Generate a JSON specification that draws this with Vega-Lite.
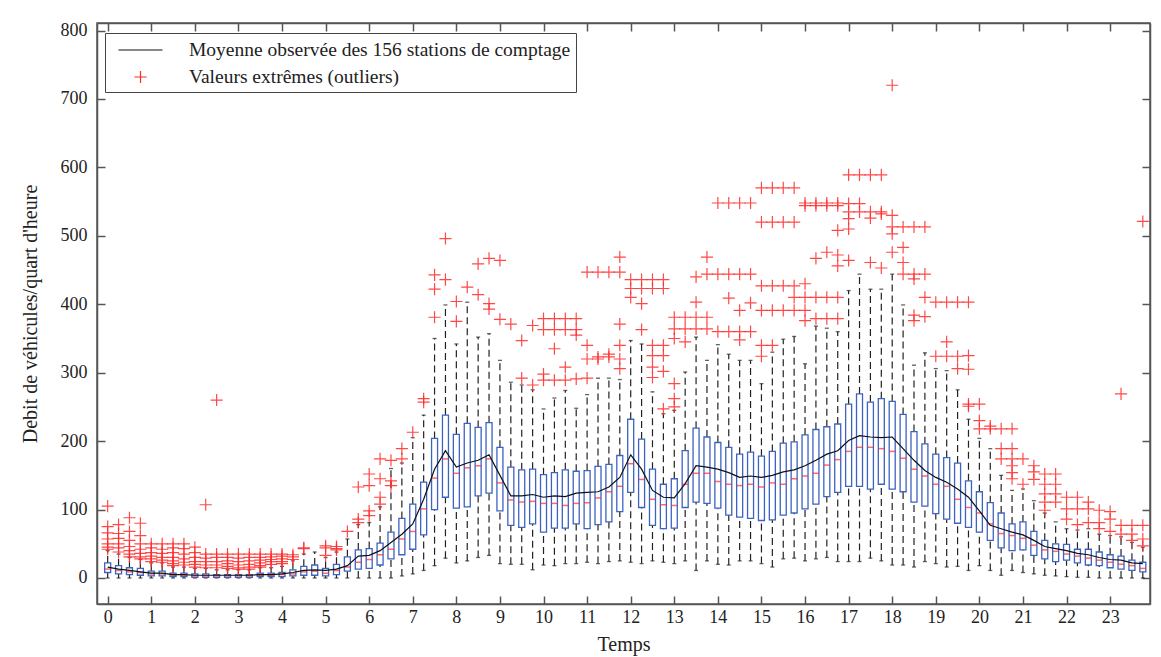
{
"$schema": "https://vega.github.io/schema/vega-lite/v6.json",
"width": 1053, "height": 581,
"padding": {"left": 20, "top": 21, "right": 8, "bottom": 4},
"autosize": {"type": "pad"},
"background": "white",
"config": {
  "font": "Liberation Serif",
  "view": {"stroke": "#555", "strokeWidth": 1.5},
  "axis": {"labelFont": "Liberation Serif", "titleFont": "Liberation Serif", "labelFontSize": 18, "titleFontSize": 20, "titleFontWeight": "normal", "labelColor": "#222", "titleColor": "#222", "domainColor": "#555", "domainWidth": 1.5, "tickColor": "#555", "tickWidth": 1.5, "tickSize": -8, "grid": false}
},
"resolve": {"axis": {"x": "independent", "y": "independent"}},
"datasets": {
"boxes": [
{"t":0,"lo":0,"q1":8,"med":13,"q3":22,"hi":40,"mean":16},
{"t":0.25,"lo":0,"q1":6,"med":11,"q3":18,"hi":35,"mean":13},
{"t":0.5,"lo":0,"q1":5,"med":9,"q3":15,"hi":30,"mean":11},
{"t":0.75,"lo":0,"q1":4,"med":8,"q3":14,"hi":27,"mean":9},
{"t":1,"lo":0,"q1":3,"med":6,"q3":10,"hi":22,"mean":7},
{"t":1.25,"lo":0,"q1":3,"med":6,"q3":10,"hi":22,"mean":7},
{"t":1.5,"lo":0,"q1":2,"med":4,"q3":7,"hi":16,"mean":5},
{"t":1.75,"lo":0,"q1":2,"med":4,"q3":7,"hi":16,"mean":5},
{"t":2,"lo":0,"q1":1,"med":3,"q3":6,"hi":14,"mean":4},
{"t":2.25,"lo":0,"q1":1,"med":3,"q3":6,"hi":14,"mean":4},
{"t":2.5,"lo":0,"q1":1,"med":3,"q3":5,"hi":12,"mean":4},
{"t":2.75,"lo":0,"q1":1,"med":3,"q3":5,"hi":12,"mean":4},
{"t":3,"lo":0,"q1":1,"med":3,"q3":5,"hi":12,"mean":4},
{"t":3.25,"lo":0,"q1":1,"med":3,"q3":5,"hi":12,"mean":4},
{"t":3.5,"lo":0,"q1":2,"med":4,"q3":7,"hi":15,"mean":5},
{"t":3.75,"lo":0,"q1":2,"med":4,"q3":7,"hi":15,"mean":5},
{"t":4,"lo":0,"q1":2,"med":5,"q3":8,"hi":17,"mean":6},
{"t":4.25,"lo":0,"q1":3,"med":6,"q3":12,"hi":25,"mean":8},
{"t":4.5,"lo":0,"q1":4,"med":9,"q3":17,"hi":35,"mean":11},
{"t":4.75,"lo":0,"q1":4,"med":10,"q3":19,"hi":38,"mean":12},
{"t":5,"lo":0,"q1":3,"med":7,"q3":14,"hi":30,"mean":11},
{"t":5.25,"lo":0,"q1":5,"med":11,"q3":20,"hi":38,"mean":13},
{"t":5.5,"lo":0,"q1":10,"med":16,"q3":31,"hi":57,"mean":18},
{"t":5.75,"lo":0,"q1":13,"med":23,"q3":41,"hi":78,"mean":32},
{"t":6,"lo":0,"q1":14,"med":27,"q3":43,"hi":81,"mean":33},
{"t":6.25,"lo":0,"q1":19,"med":34,"q3":51,"hi":104,"mean":40},
{"t":6.5,"lo":0,"q1":28,"med":42,"q3":67,"hi":160,"mean":52},
{"t":6.75,"lo":3,"q1":34,"med":57,"q3":87,"hi":168,"mean":64},
{"t":7,"lo":6,"q1":42,"med":68,"q3":108,"hi":205,"mean":79},
{"t":7.25,"lo":11,"q1":63,"med":101,"q3":140,"hi":238,"mean":115},
{"t":7.5,"lo":18,"q1":100,"med":146,"q3":204,"hi":350,"mean":159},
{"t":7.75,"lo":29,"q1":118,"med":174,"q3":238,"hi":399,"mean":186},
{"t":8,"lo":22,"q1":102,"med":153,"q3":210,"hi":342,"mean":162},
{"t":8.25,"lo":25,"q1":104,"med":161,"q3":226,"hi":403,"mean":168},
{"t":8.5,"lo":30,"q1":120,"med":164,"q3":220,"hi":352,"mean":172},
{"t":8.75,"lo":33,"q1":124,"med":174,"q3":227,"hi":357,"mean":180},
{"t":9,"lo":21,"q1":98,"med":139,"q3":191,"hi":318,"mean":150},
{"t":9.25,"lo":20,"q1":77,"med":114,"q3":162,"hi":286,"mean":120},
{"t":9.5,"lo":20,"q1":74,"med":111,"q3":158,"hi":282,"mean":120},
{"t":9.75,"lo":12,"q1":79,"med":112,"q3":159,"hi":275,"mean":122},
{"t":10,"lo":19,"q1":67,"med":109,"q3":151,"hi":247,"mean":118},
{"t":10.25,"lo":18,"q1":73,"med":109,"q3":154,"hi":263,"mean":120},
{"t":10.5,"lo":21,"q1":73,"med":106,"q3":158,"hi":274,"mean":119},
{"t":10.75,"lo":21,"q1":79,"med":109,"q3":156,"hi":248,"mean":124},
{"t":11,"lo":23,"q1":72,"med":110,"q3":157,"hi":268,"mean":125},
{"t":11.25,"lo":21,"q1":78,"med":117,"q3":163,"hi":292,"mean":126},
{"t":11.5,"lo":24,"q1":82,"med":126,"q3":166,"hi":292,"mean":133},
{"t":11.75,"lo":25,"q1":97,"med":134,"q3":179,"hi":290,"mean":147},
{"t":12,"lo":23,"q1":125,"med":167,"q3":232,"hi":347,"mean":180},
{"t":12.25,"lo":21,"q1":103,"med":144,"q3":203,"hi":342,"mean":159},
{"t":12.5,"lo":25,"q1":77,"med":115,"q3":159,"hi":272,"mean":128},
{"t":12.75,"lo":23,"q1":72,"med":107,"q3":137,"hi":240,"mean":118},
{"t":13,"lo":21,"q1":73,"med":106,"q3":145,"hi":245,"mean":117},
{"t":13.25,"lo":25,"q1":103,"med":137,"q3":186,"hi":301,"mean":138},
{"t":13.5,"lo":11,"q1":111,"med":153,"q3":219,"hi":352,"mean":164},
{"t":13.75,"lo":25,"q1":109,"med":153,"q3":206,"hi":318,"mean":162},
{"t":14,"lo":20,"q1":102,"med":141,"q3":198,"hi":341,"mean":159},
{"t":14.25,"lo":19,"q1":92,"med":137,"q3":191,"hi":327,"mean":154},
{"t":14.5,"lo":25,"q1":89,"med":135,"q3":181,"hi":318,"mean":147},
{"t":14.75,"lo":25,"q1":87,"med":137,"q3":184,"hi":318,"mean":149},
{"t":15,"lo":21,"q1":84,"med":133,"q3":178,"hi":284,"mean":147},
{"t":15.25,"lo":16,"q1":85,"med":139,"q3":185,"hi":330,"mean":150},
{"t":15.5,"lo":28,"q1":92,"med":137,"q3":197,"hi":349,"mean":155},
{"t":15.75,"lo":29,"q1":95,"med":145,"q3":199,"hi":353,"mean":158},
{"t":16,"lo":25,"q1":101,"med":149,"q3":209,"hi":313,"mean":164},
{"t":16.25,"lo":28,"q1":108,"med":153,"q3":217,"hi":368,"mean":172},
{"t":16.5,"lo":30,"q1":119,"med":165,"q3":221,"hi":365,"mean":181},
{"t":16.75,"lo":24,"q1":125,"med":173,"q3":225,"hi":360,"mean":186},
{"t":17,"lo":24,"q1":134,"med":185,"q3":254,"hi":420,"mean":201},
{"t":17.25,"lo":24,"q1":134,"med":191,"q3":269,"hi":444,"mean":208},
{"t":17.5,"lo":29,"q1":130,"med":191,"q3":257,"hi":422,"mean":206},
{"t":17.75,"lo":25,"q1":137,"med":189,"q3":262,"hi":422,"mean":205},
{"t":18,"lo":19,"q1":130,"med":185,"q3":258,"hi":444,"mean":206},
{"t":18.25,"lo":19,"q1":126,"med":175,"q3":239,"hi":399,"mean":189},
{"t":18.5,"lo":16,"q1":111,"med":159,"q3":214,"hi":311,"mean":172},
{"t":18.75,"lo":24,"q1":105,"med":149,"q3":196,"hi":329,"mean":157},
{"t":19,"lo":21,"q1":94,"med":137,"q3":181,"hi":306,"mean":147},
{"t":19.25,"lo":16,"q1":86,"med":134,"q3":176,"hi":303,"mean":140},
{"t":19.5,"lo":17,"q1":80,"med":115,"q3":168,"hi":275,"mean":130},
{"t":19.75,"lo":11,"q1":74,"med":103,"q3":142,"hi":232,"mean":118},
{"t":20,"lo":18,"q1":67,"med":95,"q3":126,"hi":204,"mean":98},
{"t":20.25,"lo":11,"q1":55,"med":79,"q3":110,"hi":189,"mean":77},
{"t":20.5,"lo":4,"q1":44,"med":65,"q3":95,"hi":150,"mean":72},
{"t":20.75,"lo":11,"q1":40,"med":62,"q3":79,"hi":128,"mean":67},
{"t":21,"lo":8,"q1":41,"med":58,"q3":82,"hi":130,"mean":63},
{"t":21.25,"lo":6,"q1":33,"med":48,"q3":68,"hi":113,"mean":55},
{"t":21.5,"lo":4,"q1":28,"med":41,"q3":55,"hi":95,"mean":46},
{"t":21.75,"lo":3,"q1":24,"med":39,"q3":50,"hi":82,"mean":43},
{"t":22,"lo":2,"q1":26,"med":35,"q3":49,"hi":72,"mean":40},
{"t":22.25,"lo":1,"q1":22,"med":32,"q3":42,"hi":70,"mean":36},
{"t":22.5,"lo":1,"q1":19,"med":29,"q3":42,"hi":72,"mean":34},
{"t":22.75,"lo":0,"q1":18,"med":26,"q3":38,"hi":64,"mean":30},
{"t":23,"lo":0,"q1":15,"med":23,"q3":34,"hi":62,"mean":27},
{"t":23.25,"lo":0,"q1":13,"med":20,"q3":32,"hi":60,"mean":26},
{"t":23.5,"lo":0,"q1":11,"med":18,"q3":26,"hi":52,"mean":22},
{"t":23.75,"lo":0,"q1":9,"med":14,"q3":23,"hi":45,"mean":21}
],
"out": [
{"t":0,"v":105},{"t":0,"v":75},{"t":0,"v":66},{"t":0,"v":57},{"t":0,"v":50},{"t":0,"v":45},{"t":0,"v":42},
{"t":0.25,"v":78},{"t":0.25,"v":65},{"t":0.25,"v":58},{"t":0.25,"v":50},{"t":0.25,"v":44},{"t":0.25,"v":38},
{"t":0.5,"v":88},{"t":0.5,"v":68},{"t":0.5,"v":55},{"t":0.5,"v":46},{"t":0.5,"v":40},{"t":0.5,"v":35},{"t":0.5,"v":31},
{"t":0.75,"v":80},{"t":0.75,"v":62},{"t":0.75,"v":50},{"t":0.75,"v":42},{"t":0.75,"v":36},{"t":0.75,"v":31},{"t":0.75,"v":28},
{"t":1,"v":50},{"t":1,"v":44},{"t":1,"v":37},{"t":1,"v":32},{"t":1,"v":28},{"t":1,"v":24},
{"t":1.25,"v":50},{"t":1.25,"v":42},{"t":1.25,"v":36},{"t":1.25,"v":30},{"t":1.25,"v":26},{"t":1.25,"v":23},
{"t":1.5,"v":50},{"t":1.5,"v":44},{"t":1.5,"v":37},{"t":1.5,"v":30},{"t":1.5,"v":25},{"t":1.5,"v":21},{"t":1.5,"v":18},
{"t":1.75,"v":50},{"t":1.75,"v":43},{"t":1.75,"v":35},{"t":1.75,"v":28},{"t":1.75,"v":23},{"t":1.75,"v":19},
{"t":2,"v":45},{"t":2,"v":37},{"t":2,"v":30},{"t":2,"v":24},{"t":2,"v":20},{"t":2,"v":16},
{"t":2.25,"v":107},{"t":2.25,"v":35},{"t":2.25,"v":29},{"t":2.25,"v":24},{"t":2.25,"v":19},{"t":2.25,"v":15},
{"t":2.5,"v":260},{"t":2.5,"v":35},{"t":2.5,"v":30},{"t":2.5,"v":24},{"t":2.5,"v":19},{"t":2.5,"v":15},
{"t":2.75,"v":35},{"t":2.75,"v":30},{"t":2.75,"v":25},{"t":2.75,"v":21},{"t":2.75,"v":17},{"t":2.75,"v":14},
{"t":3,"v":35},{"t":3,"v":29},{"t":3,"v":24},{"t":3,"v":19},{"t":3,"v":15},{"t":3,"v":13},
{"t":3.25,"v":35},{"t":3.25,"v":30},{"t":3.25,"v":25},{"t":3.25,"v":20},{"t":3.25,"v":16},{"t":3.25,"v":13},
{"t":3.5,"v":35},{"t":3.5,"v":30},{"t":3.5,"v":26},{"t":3.5,"v":22},{"t":3.5,"v":18},{"t":3.5,"v":16},
{"t":3.75,"v":35},{"t":3.75,"v":31},{"t":3.75,"v":27},{"t":3.75,"v":24},{"t":3.75,"v":20},
{"t":4,"v":35},{"t":4,"v":32},{"t":4,"v":28},{"t":4,"v":24},{"t":4,"v":21},
{"t":4.25,"v":34},{"t":4.25,"v":31},{"t":4.25,"v":27},
{"t":4.5,"v":44},{"t":4.5,"v":43},
{"t":5,"v":47},{"t":5,"v":44},{"t":5,"v":33},
{"t":5.25,"v":46},{"t":5.25,"v":43},{"t":5.25,"v":41},
{"t":5.5,"v":68},
{"t":5.75,"v":133},{"t":5.75,"v":86},{"t":5.75,"v":81},
{"t":6,"v":152},{"t":6,"v":135},{"t":6,"v":98},{"t":6,"v":91},
{"t":6.25,"v":174},{"t":6.25,"v":145},{"t":6.25,"v":118},{"t":6.25,"v":108},
{"t":6.5,"v":172},{"t":6.5,"v":142},{"t":6.5,"v":135},
{"t":6.75,"v":189},{"t":6.75,"v":174},
{"t":7,"v":213},
{"t":7.25,"v":262},{"t":7.25,"v":257},
{"t":7.5,"v":443},{"t":7.5,"v":422},{"t":7.5,"v":381},
{"t":7.75,"v":496},{"t":7.75,"v":436},
{"t":8,"v":404},{"t":8,"v":375},
{"t":8.25,"v":425},
{"t":8.5,"v":459},{"t":8.5,"v":414},
{"t":8.75,"v":467},{"t":8.75,"v":401},{"t":8.75,"v":393},
{"t":9,"v":464},{"t":9,"v":378},
{"t":9.25,"v":371},
{"t":9.5,"v":347},{"t":9.5,"v":292},
{"t":9.75,"v":369},{"t":9.75,"v":282},
{"t":10,"v":379},{"t":10,"v":363},{"t":10,"v":298},{"t":10,"v":289},
{"t":10.25,"v":379},{"t":10.25,"v":363},{"t":10.25,"v":335},{"t":10.25,"v":289},
{"t":10.5,"v":379},{"t":10.5,"v":363},{"t":10.5,"v":308},{"t":10.5,"v":289},
{"t":10.75,"v":379},{"t":10.75,"v":363},{"t":10.75,"v":355},{"t":10.75,"v":291},
{"t":11,"v":447},{"t":11,"v":340},{"t":11,"v":320},{"t":11,"v":292},
{"t":11.25,"v":447},{"t":11.25,"v":323},{"t":11.25,"v":320},
{"t":11.5,"v":447},{"t":11.5,"v":327},{"t":11.5,"v":323},
{"t":11.75,"v":469},{"t":11.75,"v":447},{"t":11.75,"v":371},{"t":11.75,"v":340},{"t":11.75,"v":320},{"t":11.75,"v":306},
{"t":12,"v":436},{"t":12,"v":423},{"t":12,"v":410},
{"t":12.25,"v":436},{"t":12.25,"v":423},{"t":12.25,"v":401},{"t":12.25,"v":363},
{"t":12.5,"v":436},{"t":12.5,"v":423},{"t":12.5,"v":340},{"t":12.5,"v":325},{"t":12.5,"v":308},{"t":12.5,"v":293},
{"t":12.75,"v":436},{"t":12.75,"v":423},{"t":12.75,"v":340},{"t":12.75,"v":325},{"t":12.75,"v":302},{"t":12.75,"v":247},
{"t":13,"v":381},{"t":13,"v":364},{"t":13,"v":350},{"t":13,"v":284},{"t":13,"v":262},{"t":13,"v":250},
{"t":13.25,"v":381},{"t":13.25,"v":364},{"t":13.25,"v":345},
{"t":13.5,"v":440},{"t":13.5,"v":403},{"t":13.5,"v":381},{"t":13.5,"v":364},
{"t":13.75,"v":469},{"t":13.75,"v":444},{"t":13.75,"v":381},{"t":13.75,"v":364},
{"t":14,"v":548},{"t":14,"v":444},{"t":14,"v":360},
{"t":14.25,"v":548},{"t":14.25,"v":444},{"t":14.25,"v":409},{"t":14.25,"v":360},
{"t":14.5,"v":548},{"t":14.5,"v":444},{"t":14.5,"v":391},{"t":14.5,"v":360},{"t":14.5,"v":348},
{"t":14.75,"v":548},{"t":14.75,"v":444},{"t":14.75,"v":402},{"t":14.75,"v":360},
{"t":15,"v":570},{"t":15,"v":520},{"t":15,"v":427},{"t":15,"v":391},{"t":15,"v":340},{"t":15,"v":324},
{"t":15.25,"v":570},{"t":15.25,"v":520},{"t":15.25,"v":427},{"t":15.25,"v":391},{"t":15.25,"v":340},
{"t":15.5,"v":570},{"t":15.5,"v":520},{"t":15.5,"v":427},{"t":15.5,"v":391},
{"t":15.75,"v":570},{"t":15.75,"v":520},{"t":15.75,"v":427},{"t":15.75,"v":410},{"t":15.75,"v":391},
{"t":16,"v":548},{"t":16,"v":544},{"t":16,"v":430},{"t":16,"v":410},{"t":16,"v":391},{"t":16,"v":376},
{"t":16.25,"v":548},{"t":16.25,"v":544},{"t":16.25,"v":467},{"t":16.25,"v":410},{"t":16.25,"v":379},
{"t":16.5,"v":548},{"t":16.5,"v":544},{"t":16.5,"v":476},{"t":16.5,"v":410},{"t":16.5,"v":379},
{"t":16.75,"v":548},{"t":16.75,"v":544},{"t":16.75,"v":508},{"t":16.75,"v":472},{"t":16.75,"v":456},{"t":16.75,"v":410},{"t":16.75,"v":379},
{"t":17,"v":589},{"t":17,"v":547},{"t":17,"v":535},{"t":17,"v":525},{"t":17,"v":510},{"t":17,"v":464},
{"t":17.25,"v":589},{"t":17.25,"v":547},{"t":17.25,"v":535},
{"t":17.5,"v":589},{"t":17.5,"v":535},{"t":17.5,"v":526},{"t":17.5,"v":461},
{"t":17.75,"v":589},{"t":17.75,"v":535},{"t":17.75,"v":532},{"t":17.75,"v":453},
{"t":18,"v":720},{"t":18,"v":530},{"t":18,"v":513},{"t":18,"v":503},{"t":18,"v":476},
{"t":18.25,"v":513},{"t":18.25,"v":483},{"t":18.25,"v":461},{"t":18.25,"v":444},
{"t":18.5,"v":513},{"t":18.5,"v":444},{"t":18.5,"v":437},{"t":18.5,"v":384},{"t":18.5,"v":376},
{"t":18.75,"v":513},{"t":18.75,"v":444},{"t":18.75,"v":410},{"t":18.75,"v":382},
{"t":19,"v":403},{"t":19,"v":324},
{"t":19.25,"v":403},{"t":19.25,"v":345},{"t":19.25,"v":324},
{"t":19.5,"v":403},{"t":19.5,"v":324},{"t":19.5,"v":306},
{"t":19.75,"v":403},{"t":19.75,"v":325},{"t":19.75,"v":305},{"t":19.75,"v":254},{"t":19.75,"v":251},
{"t":20,"v":254},{"t":20,"v":230},{"t":20,"v":218},
{"t":20.25,"v":222},{"t":20.25,"v":218},
{"t":20.5,"v":218},{"t":20.5,"v":189},{"t":20.5,"v":174},
{"t":20.75,"v":218},{"t":20.75,"v":189},{"t":20.75,"v":174},{"t":20.75,"v":164},{"t":20.75,"v":154},{"t":20.75,"v":145},
{"t":21,"v":174},{"t":21,"v":137},
{"t":21.25,"v":164},{"t":21.25,"v":155},{"t":21.25,"v":144},
{"t":21.5,"v":152},{"t":21.5,"v":137},{"t":21.5,"v":123},{"t":21.5,"v":111},{"t":21.5,"v":99},
{"t":21.75,"v":152},{"t":21.75,"v":137},{"t":21.75,"v":123},{"t":21.75,"v":111},
{"t":22,"v":118},{"t":22,"v":101},{"t":22,"v":86},
{"t":22.25,"v":118},{"t":22.25,"v":101},{"t":22.25,"v":78},
{"t":22.5,"v":111},{"t":22.5,"v":101},{"t":22.5,"v":81},
{"t":22.75,"v":99},{"t":22.75,"v":81},{"t":22.75,"v":72},
{"t":23,"v":97},{"t":23,"v":86},{"t":23,"v":68},
{"t":23.25,"v":269},{"t":23.25,"v":77},{"t":23.25,"v":64},
{"t":23.5,"v":77},{"t":23.5,"v":64},{"t":23.5,"v":55},
{"t":23.75,"v":521},{"t":23.75,"v":77},{"t":23.75,"v":57},{"t":23.75,"v":47}
]
},
"layer": [
{
  "data": {"name": "boxes"},
  "mark": {"type": "rule", "strokeDash": [7, 4], "color": "#222", "strokeWidth": 1.2},
  "encoding": {
    "x": {"field": "t", "type": "quantitative", "scale": {"domain": [-0.13, 23.8], "nice": false, "zero": false},
      "axis": {"orient": "bottom", "values": [0,1,2,3,4,5,6,7,8,9,10,11,12,13,14,15,16,17,18,19,20,21,22,23], "title": "Temps", "labelPadding": 12, "titlePadding": 8, "labelFlush": false}},
    "y": {"field": "q3", "type": "quantitative", "scale": {"domain": [-38, 811], "nice": false, "zero": false},
      "axis": {"orient": "left", "values": [0,100,200,300,400,500,600,700,800], "title": "Debit de véhicules/quart d'heure", "labelPadding": 18, "titlePadding": 20}},
    "y2": {"field": "hi"}
  }
},
{
  "data": {"name": "boxes"},
  "mark": {"type": "rule", "strokeDash": [7, 4], "color": "#222", "strokeWidth": 1.2},
  "encoding": {
    "x": {"field": "t", "type": "quantitative", "axis": {"orient": "top", "values": [0,1,2,3,4,5,6,7,8,9,10,11,12,13,14,15,16,17,18,19,20,21,22,23], "labels": false, "title": null}},
    "y": {"field": "lo", "type": "quantitative", "axis": {"orient": "right", "values": [0,100,200,300,400,500,600,700,800], "labels": false, "title": null}},
    "y2": {"field": "q1"}
  }
},
{
  "data": {"name": "boxes"},
  "mark": {"type": "tick", "orient": "horizontal", "size": 4, "thickness": 1.3, "color": "#222"},
  "encoding": {
    "x": {"field": "t", "type": "quantitative", "axis": null},
    "y": {"field": "hi", "type": "quantitative", "axis": null}
  }
},
{
  "data": {"name": "boxes"},
  "mark": {"type": "tick", "orient": "horizontal", "size": 4, "thickness": 1.3, "color": "#222"},
  "encoding": {
    "x": {"field": "t", "type": "quantitative", "axis": null},
    "y": {"field": "lo", "type": "quantitative", "axis": null}
  }
},
{
  "data": {"name": "boxes"},
  "mark": {"type": "bar", "size": 6, "fill": "white", "stroke": "#3d63c0", "strokeWidth": 1.3},
  "encoding": {
    "x": {"field": "t", "type": "quantitative", "axis": null},
    "y": {"field": "q1", "type": "quantitative", "axis": null},
    "y2": {"field": "q3"}
  }
},
{
  "data": {"name": "boxes"},
  "mark": {"type": "tick", "orient": "horizontal", "size": 6, "thickness": 1.5, "color": "#ff2a2a"},
  "encoding": {
    "x": {"field": "t", "type": "quantitative", "axis": null},
    "y": {"field": "med", "type": "quantitative", "axis": null}
  }
},
{
  "data": {"name": "boxes"},
  "mark": {"type": "line", "strokeWidth": 1.2, "color": "#111111"},
  "encoding": {
    "x": {"field": "t", "type": "quantitative", "axis": null},
    "y": {"field": "mean", "type": "quantitative", "axis": null}
  }
},
{
  "data": {"name": "out"},
  "mark": {"type": "point", "size": 484, "filled": false, "strokeWidth": 1.2, "opacity": 0.85},
  "encoding": {
    "x": {"field": "t", "type": "quantitative", "axis": null},
    "y": {"field": "v", "type": "quantitative", "axis": null},
    "shape": {"datum": "Valeurs extrêmes (outliers)", "type": "nominal",
      "scale": {"domain": ["Moyenne observée des 156 stations de comptage", "Valeurs extrêmes (outliers)"], "range": ["M-2,0H2", "M-0.55,0H0.55M0,-0.55V0.55"]},
      "legend": {"title": null, "orient": "none", "legendX": 8, "legendY": 10, "direction": "vertical",
        "strokeColor": "#444", "fillColor": "white", "padding": 5,
        "labelFont": "Liberation Serif", "labelFontSize": 19.5, "labelColor": "#222", "labelLimit": 0,
        "symbolSize": 484, "symbolStrokeWidth": 1.2, "symbolOffset": 18.5, "labelOffset": 36.5, "rowPadding": 5, "symbolOpacity": 1}},
    "color": {"datum": "Valeurs extrêmes (outliers)", "type": "nominal",
      "scale": {"domain": ["Moyenne observée des 156 stations de comptage", "Valeurs extrêmes (outliers)"], "range": ["#111111", "#ff2a2a"]},
      "legend": {"title": null, "orient": "none", "legendX": 8, "legendY": 10, "direction": "vertical",
        "strokeColor": "#444", "fillColor": "white", "padding": 5,
        "labelFont": "Liberation Serif", "labelFontSize": 19.5, "labelColor": "#222", "labelLimit": 0,
        "symbolSize": 484, "symbolStrokeWidth": 1.2, "symbolOffset": 18.5, "labelOffset": 36.5, "rowPadding": 5, "symbolOpacity": 1}}
  }
}
]
}
